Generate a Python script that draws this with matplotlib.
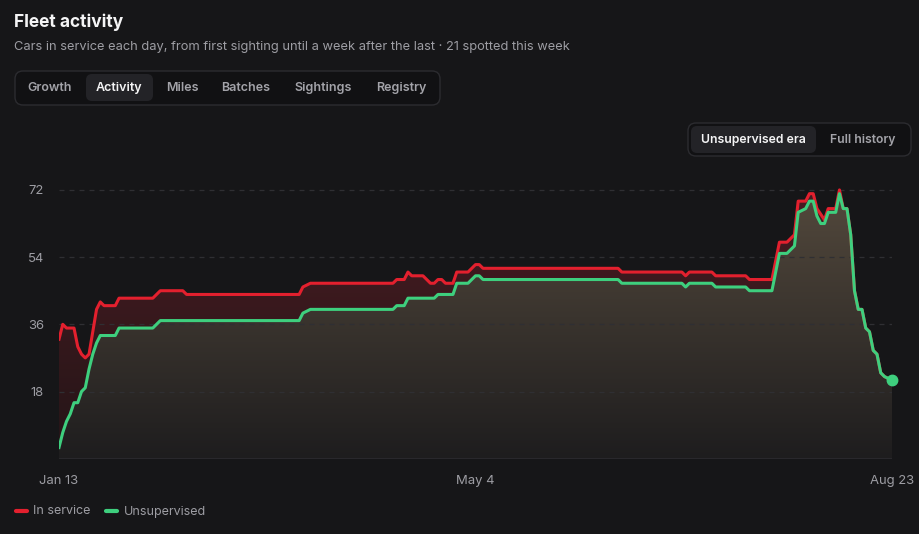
import numpy as np
import matplotlib
matplotlib.use("Agg")
import matplotlib.pyplot as plt
from matplotlib.patches import FancyBboxPatch, Polygon
from matplotlib.colors import LinearSegmentedColormap

plt.rcParams["font.family"] = ["Inter", "DejaVu Sans"]

# ---- data (days since Jan 13) ----
days_service = [0, 1, 2, 4, 5, 6, 7, 8, 10, 11, 12, 15, 16, 25, 27, 33, 34, 64, 65, 67,
                89, 90, 92, 93, 94, 97, 99, 100, 101, 102, 103, 105, 106, 109, 111, 112, 113,
                149, 150, 166, 167, 168, 174, 175, 183, 184, 190, 192, 194, 196, 197, 199,
                200, 201, 202, 204, 205, 207, 208, 209, 210, 211, 212, 213, 214, 215, 216,
                217, 218, 219, 220, 222]
in_service = [32, 36, 35, 35, 30, 28, 27, 28, 40, 42, 41, 41, 43, 43, 45, 45, 44, 44, 46, 47,
              47, 48, 48, 50, 49, 49, 47, 47, 48, 48, 47, 47, 50, 50, 52, 52, 51,
              51, 50, 50, 49, 50, 50, 49, 49, 48, 48, 58, 58, 60, 69, 69,
              71, 71, 67, 64, 67, 67, 72, 67, 67, 60, 45, 40, 40, 35, 34,
              29, 28, 23, 22, 21]

days_unsup = [0, 1, 2, 3, 4, 5, 6, 7, 8, 9, 10, 11, 15, 16, 25, 27, 64, 65, 67,
              89, 90, 92, 93, 100, 101, 105, 106, 109, 111, 112, 113,
              149, 150, 166, 167, 168, 174, 175, 183, 184, 190, 192, 194, 196, 197, 199,
              200, 201, 202, 203, 204, 205, 207, 208, 209, 210, 211, 212, 213, 214, 215, 216,
              217, 218, 219, 220, 222]
unsupervised = [3, 7, 10, 12, 15, 15, 18, 19, 24, 28, 31, 33, 33, 35, 35, 37, 37, 39, 40,
                40, 41, 41, 43, 43, 44, 44, 47, 47, 49, 49, 48,
                48, 47, 47, 46, 47, 47, 46, 46, 45, 45, 55, 55, 57, 66, 67,
                69, 69, 65, 63, 63, 66, 66, 71, 67, 67, 60, 45, 40, 40, 35, 34,
                29, 28, 23, 22, 21]

x_ticks = [0, 111, 222]
x_labels = ["Jan 13", "May 4", "Aug 23"]
y_ticks = [18, 36, 54, 72]

tabs = ["Growth", "Activity", "Miles", "Batches", "Sightings", "Registry"]
tab_x = [50, 119, 182, 246, 323, 401]

BG = "#161618"
RED = "#e3202e"
GREEN = "#3ecf7e"
MUTED = "#9d9da3"

fig = plt.figure(figsize=(9.2, 5.34), dpi=100, facecolor=BG)

# overlay in pixel coords for the UI chrome
ui = fig.add_axes([0, 0, 1, 1], zorder=0)
ui.set_xlim(0, 920)
ui.set_ylim(534, 0)
ui.axis("off")
ui.set_facecolor(BG)

ui.text(14, 22, "Fleet activity", color="#f4f4f5", fontsize=12.5, fontweight="bold", va="center")
ui.text(14, 47, "Cars in service each day, from first sighting until a week after the last \u00b7 21 spotted this week",
        color=MUTED, fontsize=9.25, va="center")

ui.add_patch(FancyBboxPatch((15, 71), 425, 34, boxstyle="round,pad=0,rounding_size=8",
                            facecolor="#111113", edgecolor="#2c2c30", linewidth=1))
ui.add_patch(FancyBboxPatch((86, 74), 67, 27, boxstyle="round,pad=0,rounding_size=6",
                            facecolor="#232327", edgecolor="none"))
for name, tx in zip(tabs, tab_x):
    ui.text(tx, 88, name, color="#f4f4f5" if name == "Activity" else "#a3a3a9",
            fontsize=9, fontweight="semibold", ha="center", va="center")

ui.add_patch(FancyBboxPatch((688, 123), 223, 33, boxstyle="round,pad=0,rounding_size=8",
                            facecolor="#111113", edgecolor="#2c2c30", linewidth=1))
ui.add_patch(FancyBboxPatch((691, 126), 125, 27, boxstyle="round,pad=0,rounding_size=6",
                            facecolor="#232327", edgecolor="none"))
ui.text(753, 139.5, "Unsupervised era", color="#f4f4f5", fontsize=8.8, fontweight="semibold",
        ha="center", va="center")
ui.text(863, 139.5, "Full history", color="#a3a3a9", fontsize=8.8, fontweight="semibold",
        ha="center", va="center")

# legend
ui.plot([16, 27], [511, 511], color=RED, lw=3, solid_capstyle="round")
ui.text(33, 511.5, "In service", color=MUTED, fontsize=9, va="center")
ui.plot([106, 117], [511, 511], color=GREEN, lw=3, solid_capstyle="round")
ui.text(124, 511.5, "Unsupervised", color=MUTED, fontsize=9, va="center")

# ---- chart ----
ax = fig.add_axes([59 / 920, 75.3 / 534, 833 / 920, 283.7 / 534], zorder=1)
ax.patch.set_alpha(0)


def gradient_fill(xs, ys, c_bot, c_top, z):
    verts = [(xs[0], 0)] + list(zip(xs, ys)) + [(xs[-1], 0)]
    poly = Polygon(verts, closed=True, facecolor="none", edgecolor="none")
    ax.add_patch(poly)
    cmap = LinearSegmentedColormap.from_list("g", [c_bot, c_top])
    grad = np.linspace(0, 1, 256).reshape(-1, 1)
    im = ax.imshow(grad, cmap=cmap, extent=[0, 222, 0, 76], origin="lower",
                   aspect="auto", zorder=z, interpolation="bilinear")
    im.set_clip_path(poly)


gradient_fill(days_service, in_service, "#231517", "#4c1c23", 1)
gradient_fill(days_unsup, unsupervised, "#1e1d1e", "#564b3e", 2)

for yv in y_ticks:
    ax.axhline(yv, color="#2f2f33", lw=0.9, ls=(0, (4, 4)), zorder=3)
ax.axhline(0, color="#2c2c30", lw=1.2, zorder=3)

ax.plot(days_service, in_service, color=RED, lw=2.2, zorder=4, solid_joinstyle="round")
ax.plot(days_unsup, unsupervised, color=GREEN, lw=2.2, zorder=5, solid_joinstyle="round")
ax.plot(days_unsup[-1], unsupervised[-1], "o", color=GREEN, ms=7.5, zorder=6, clip_on=False)

ax.set_xlim(0, 222)
ax.set_ylim(0, 76)
ax.set_xticks(x_ticks)
ax.set_xticklabels(x_labels)
ax.set_yticks(y_ticks)
ax.tick_params(colors=MUTED, labelsize=9.4, length=0)
ax.tick_params(axis="x", pad=12)
ax.tick_params(axis="y", pad=11)
for s in ax.spines.values():
    s.set_visible(False)

fig.savefig("out.png", dpi=100, facecolor=BG)
